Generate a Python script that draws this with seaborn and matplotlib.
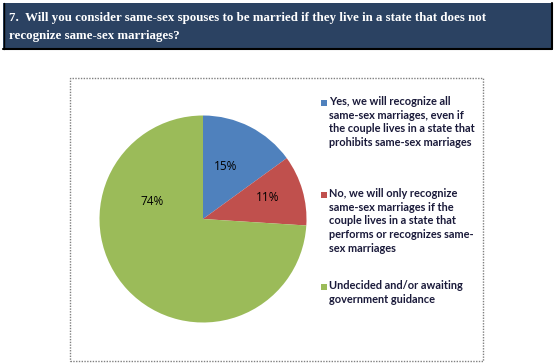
import matplotlib.pyplot as plt
import matplotlib.patches as mpatches
import seaborn as sns

# survey answers, question 7
answers = [
    "Yes, we will recognize all\nsame-sex marriages, even if\nthe couple lives in a state that\nprohibits same-sex marriages",
    "No, we will only recognize\nsame-sex marriages if the\ncouple lives in a state that\nperforms or recognizes same-\nsex marriages",
    "Undecided and/or awaiting\ngovernment guidance",
]
shares = [15, 11, 74]
slice_colors = ["#4f81bd", "#c0504d", "#9bbb59"]
title = "7.  Will you consider same-sex spouses to be married if they live in a state that does not\nrecognize same-sex marriages?"

sns.set_theme(style="white")
W, H = 555, 364
fig = plt.figure(figsize=(W / 100, H / 100), dpi=100)

def fx(px):
    return px / W

def fy(py):
    return 1 - py / H

# title bar
fig.patches.append(mpatches.Rectangle((fx(3), fy(49)), fx(549), 46 / H, transform=fig.transFigure,
                                      facecolor="#2b4262", edgecolor="none"))
fig.add_artist(plt.Line2D([fx(3), fx(552)], [fy(49), fy(49)], transform=fig.transFigure, color="black", lw=1.5))
fig.add_artist(plt.Line2D([fx(552), fx(552)], [fy(3), fy(49)], transform=fig.transFigure, color="black", lw=1.5))
fig.add_artist(plt.Line2D([fx(3.5), fx(3.5)], [fy(3), fy(49)], transform=fig.transFigure, color="black", lw=1))
fig.text(fx(9), fy(27), title, color="white", fontsize=9.3, fontweight="bold",
         family="Liberation Serif", va="center", ha="left", linespacing=1.65)

# chart frame (dotted grey)
fig.patches.append(mpatches.Rectangle((fx(70), fy(361)), fx(413), 283 / H, transform=fig.transFigure,
                                      facecolor="none", edgecolor="#808080", lw=1, linestyle=(0, (1, 1))))

# pie
cx, cy, r = 203, 219, 103.5
ax = fig.add_axes([fx(cx - r), fy(cy + r), fx(2 * r), 2 * r / H])
wedges, _, pcts = ax.pie(shares, colors=slice_colors, startangle=90, counterclock=False,
                         autopct="%d%%", pctdistance=0.6, radius=1,
                         wedgeprops=dict(linewidth=0),
                         textprops=dict(fontsize=8.5, family="Open Sans", color="black"))
ax.set_xlim(-1, 1)
ax.set_ylim(-1, 1)
ax.set_aspect("auto")
ax.axis("off")
label_pos = [(0.22, 0.51), (0.62, 0.21), (-0.49, 0.17)]
for t, p in zip(pcts, label_pos):
    t.set_position(p)
    t.set_ha("center")
    t.set_va("center")

# legend drawn by hand so each square sits at the first line
starts = [103, 195, 287]
for label, color, y0 in zip(answers, slice_colors, starts):
    fig.patches.append(mpatches.Rectangle((fx(321), fy(y0 + 3)), fx(6), 6 / H, transform=fig.transFigure,
                                          facecolor=color, edgecolor="none"))
    fig.text(fx(329), fy(y0 - 7), label, fontsize=7.9, fontweight="bold", family="Lato",
             color="#1a1a3a", va="top", ha="left", linespacing=1.3)

fig.savefig("out.png", dpi=100)
